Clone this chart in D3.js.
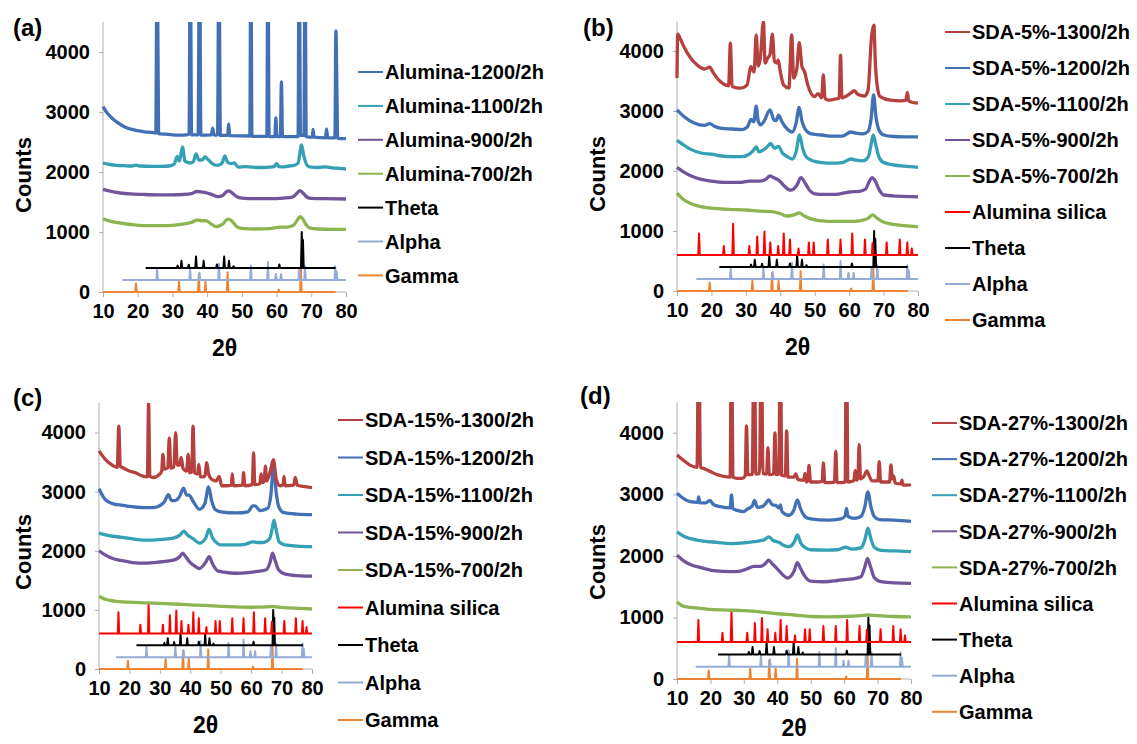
<!DOCTYPE html>
<html>
<head>
<meta charset="utf-8">
<title>XRD patterns</title>
<script src="https://d3js.org/d3.v7.min.js"></script>
<style>
  body { margin: 0; background: #fff; }
  text { font-family: "Liberation Sans", Arial, sans-serif; font-weight: bold; fill: #000; }
</style>
</head>
<body>
<div id="chart"></div>
<script type="text/javascript">

// ---- data: [2theta, counts] ----
let xTicks = [10, 20, 30, 40, 50, 60, 70, 80];
let yTicks = [0, 1000, 2000, 3000, 4000];

// panel (a)
let alumina1200 = [[10,3090],[11,3000],[12,2930],[14,2830],[16,2760],[18,2715],[20,2690],[22,2670],[24,2660],[25.2,2650],[25.6,6000],[26.0,2640],[28,2630],[30,2620],[32,2615],[34,2620],[34.8,2630],[35.15,6000],[35.5,2620],[37.4,2620],[37.8,6000],[38.2,2615],[41.2,2620],[41.6,2730],[42.0,2615],[43.0,2620],[43.4,6000],[43.8,2610],[45.9,2610],[46.2,2800],[46.5,2605],[52.3,2600],[52.6,6000],[52.9,2595],[57.2,2595],[57.5,6000],[57.85,2590],[59.5,2590],[59.8,2900],[60.1,2590],[61.1,2590],[61.4,3500],[61.7,2590],[66.2,2590],[66.5,6000],[66.9,2610],[67.9,2610],[68.2,6000],[68.5,2590],[70.3,2580],[70.5,2710],[70.8,2580],[74.1,2570],[74.4,2720],[74.7,2570],[76.8,2570],[77.1,4350],[77.35,3500],[77.6,2560],[80,2555]];
let alumina1100 = [[10,2150],[12,2125],[14,2110],[16,2105],[18,2100],[19.5,2115],[20.5,2100],[24,2095],[27,2095],[29,2100],[30.5,2130],[31.4,2260],[32.0,2180],[32.9,2420],[33.6,2180],[35,2150],[36.0,2170],[36.8,2300],[37.6,2200],[38.5,2200],[39.4,2250],[40.4,2200],[41.5,2140],[43,2110],[44.3,2150],[45.1,2270],[45.9,2160],[47.0,2140],[47.8,2150],[49,2080],[51,2090],[53,2080],[56,2075],[58,2080],[59.3,2090],[60.0,2140],[60.7,2090],[62,2085],[63.5,2100],[65,2110],[66.2,2150],[67.2,2450],[67.8,2280],[68.8,2110],[70,2080],[72,2075],[74,2085],[76,2070],[78,2060],[80,2050]];
let alumina900 = [[10,1710],[12,1680],[15,1650],[18,1635],[22,1625],[26,1620],[30,1620],[33,1625],[35.5,1640],[37,1675],[38.5,1665],[40,1650],[41.5,1620],[43,1590],[44.5,1610],[45.5,1670],[46.2,1685],[47,1660],[48.5,1590],[50,1565],[54,1555],[58,1555],[62,1565],[64.5,1580],[65.8,1640],[66.7,1690],[67.6,1650],[68.8,1580],[70,1560],[74,1555],[80,1550]];
let alumina700 = [[10,1220],[12,1180],[15,1150],[18,1125],[22,1105],[26,1105],[30,1110],[33,1130],[35.5,1160],[37.2,1200],[38.5,1185],[39.6,1190],[41,1140],[42.5,1090],[44.5,1130],[45.5,1200],[46.2,1215],[47,1190],[48.5,1090],[50,1060],[54,1050],[58,1055],[61,1080],[63,1080],[65,1120],[66.2,1220],[66.8,1255],[67.5,1220],[68.5,1120],[69.5,1070],[72,1050],[76,1045],[80,1045]];

// panel (b)
let sda5_1300 = [[10,3550],[10.2,4280],[11,4200],[12,4070],[14,3880],[16,3760],[18,3700],[19.5,3730],[20.5,3640],[22.6,3490],[25.0,3420],[25.5,4130],[26.0,3410],[28.4,3380],[30.3,3430],[31.5,3740],[32.4,3650],[33.0,4270],[33.6,3750],[34.2,3880],[35.1,4490],[35.6,3800],[36.3,3880],[37.0,3940],[37.7,4280],[38.3,3830],[39.0,3800],[39.4,3850],[40,3660],[41,3430],[42.5,3380],[43.3,4270],[43.9,3550],[44.8,3700],[45.5,4140],[46.3,3740],[47,3660],[48,3430],[50,3240],[51,3290],[52.0,3220],[52.5,3600],[53.0,3210],[54,3180],[56,3200],[57.1,3220],[57.5,3930],[57.9,3220],[59,3240],[60.5,3300],[61.5,3340],[62.5,3280],[64.5,3250],[65.5,3350],[66.5,4240],[67.2,4430],[67.6,3820],[68.2,3400],[69,3240],[72,3180],[75,3170],[76.5,3180],[76.9,3310],[77.3,3170],[78,3150],[80,3130]];
let sda5_1200 = [[10,3020],[12,2910],[15,2800],[18,2760],[19.5,2790],[21,2740],[23,2710],[26,2700],[29,2690],[30.5,2740],[31.5,2860],[32.3,2820],[33.0,3080],[33.6,2830],[34.3,2770],[35.3,2830],[37.0,3020],[38.2,2850],[38.8,2840],[39.5,2930],[40.5,2820],[42,2700],[43.5,2650],[44.6,2800],[45.5,3060],[46.3,2830],[47.2,2700],[48.5,2630],[50,2610],[52,2600],[55,2580],[58,2580],[60.5,2650],[62,2630],[64,2620],[65.5,2660],[66.4,2880],[67.1,3270],[67.8,2900],[68.7,2680],[70,2600],[73,2575],[76,2570],[80,2570]];
let sda5_1100 = [[10,2510],[12,2430],[14,2360],[17,2300],[20,2280],[23,2250],[26,2240],[29,2240],[31,2280],[32,2330],[33,2400],[33.8,2320],[35.3,2360],[36.3,2410],[37.2,2460],[38.3,2380],[39.5,2410],[40.6,2300],[42,2240],[43.5,2200],[44.6,2320],[45.6,2600],[46.5,2380],[47.5,2240],[49,2180],[52,2140],[55,2130],[58,2140],[60.5,2200],[62,2180],[64,2170],[65.6,2240],[66.3,2420],[67,2600],[67.8,2420],[68.6,2240],[70,2140],[73,2100],[76,2080],[80,2060]];
let sda5_900 = [[10,2060],[12,1980],[14,1920],[17,1860],[20,1830],[24,1810],[28,1810],[31,1830],[34,1830],[36,1870],[37,1920],[38,1890],[39.5,1850],[41,1760],[43,1680],[44.8,1760],[46,1890],[47.2,1800],[48.5,1680],[50,1620],[53,1610],[56,1610],[60,1650],[63,1660],[64.8,1700],[65.8,1820],[66.7,1890],[67.6,1830],[68.8,1680],[70,1600],[74,1580],[80,1570]];
let sda5_700 = [[10,1630],[11,1570],[12,1520],[14,1460],[16,1420],[20,1380],[25,1360],[30,1350],[34,1330],[38,1320],[40,1290],[42,1250],[44,1270],[45.5,1300],[47,1250],[48.5,1210],[52,1170],[56,1160],[60,1160],[63,1170],[65.5,1210],[66.8,1270],[68,1220],[69.5,1160],[72,1120],[76,1090],[80,1070]];

// panel (c)
let sda15_1300 = [[10,3690],[12,3550],[14,3460],[16.0,3410],[16.5,4110],[17.0,3430],[18,3400],[20,3350],[22,3320],[24,3270],[25.9,3250],[26.3,4500],[26.7,3260],[28,3240],[30,3300],[30.6,3350],[31.0,3630],[31.5,3380],[32.6,3400],[33.1,3910],[33.6,3400],[34.6,3420],[35.2,4000],[35.7,3450],[36.5,3450],[37.0,3580],[37.6,3400],[38.8,3350],[39.3,3630],[39.8,3320],[40.5,3330],[40.9,4110],[41.4,3320],[42.4,3300],[42.8,3460],[43.3,3250],[44.8,3260],[45.4,3490],[46,3300],[47,3210],[48.5,3180],[49.5,3260],[50.3,3100],[52,3100],[53.5,3110],[53.8,3300],[54.2,3100],[57.2,3110],[57.5,3320],[57.9,3100],[60.4,3120],[60.8,3660],[61.2,3120],[62.8,3130],[63.3,3300],[63.7,3150],[64.3,3180],[64.7,3430],[65.1,3180],[66.3,3350],[67.3,3540],[68.3,3200],[69.5,3100],[70.5,3120],[70.8,3260],[71.2,3100],[74.0,3110],[74.5,3240],[75.2,3110],[77,3090],[80,3070]];
let sda15_1200 = [[10,3050],[12,2870],[15,2790],[18,2770],[20,2750],[25,2730],[28,2730],[30.5,2780],[31.5,2830],[32.8,2950],[33.8,2850],[35,2850],[36.5,2920],[37.8,3060],[38.8,2940],[39.6,2940],[41,2830],[43,2700],[44.8,2800],[46,3080],[47,2850],[48.2,2700],[50,2660],[55,2640],[59,2660],[60.5,2760],[61.2,2760],[63,2680],[65.5,2720],[66.5,2950],[67.4,3460],[68.2,3000],[69,2760],[70.5,2650],[75,2620],[80,2610]];
let sda15_1100 = [[10,2300],[13,2260],[17,2230],[20,2210],[25,2180],[30,2190],[34,2210],[36.5,2260],[37.9,2330],[39,2270],[41,2200],[43,2130],[45,2210],[46.2,2360],[47.3,2220],[49,2120],[50,2100],[55,2100],[58,2110],[60.5,2150],[62,2140],[64,2140],[66,2200],[66.8,2340],[67.5,2520],[68.2,2360],[69.2,2150],[71,2100],[75,2080],[80,2070]];
let sda15_900 = [[10,2000],[12,1930],[15,1860],[18,1830],[21,1800],[25,1790],[30,1810],[33,1830],[35,1850],[36.5,1900],[37.5,1960],[38.5,1900],[40,1800],[41.5,1740],[43,1700],[45,1800],[46.2,1900],[47.3,1780],[49,1660],[51,1640],[55,1620],[59,1630],[62,1650],[65,1680],[66.2,1800],[67,1960],[67.8,1850],[69,1680],[71,1610],[75,1580],[80,1570]];
let sda15_700 = [[10,1230],[12,1180],[15,1150],[20,1130],[25,1120],[30,1110],[35,1100],[40,1085],[45,1075],[50,1060],[55,1050],[60,1045],[65,1050],[67.2,1060],[69,1045],[72,1035],[76,1025],[80,1015]];

// panel (d)
let sda27_1300 = [[10,3640],[12,3550],[14,3470],[16.0,3440],[16.5,6000],[17.0,3440],[18,3420],[20,3370],[22,3320],[24,3290],[25.9,3280],[26.3,6000],[26.7,3280],[28,3260],[29.5,3260],[30.4,3300],[30.8,4110],[31.2,3320],[32.5,3320],[33.1,6000],[33.6,3330],[34.7,3340],[35.2,6000],[35.7,3340],[36.8,3330],[37.2,3760],[37.6,3320],[38.9,3330],[39.3,4000],[39.7,3320],[40.5,3330],[40.9,6000],[41.3,3310],[42.4,3300],[42.8,4030],[43.2,3280],[45,3280],[45.5,3330],[46.2,3240],[47.9,3230],[48.3,3340],[48.7,3200],[49.1,3220],[49.5,3470],[49.9,3200],[52,3200],[53.4,3210],[53.8,3510],[54.2,3190],[57.1,3200],[57.5,3700],[57.9,3190],[60.3,3200],[60.7,6000],[61.1,3200],[62.9,3220],[63.3,3390],[63.7,3230],[64.1,3250],[64.5,3810],[64.9,3250],[66.0,3300],[66.8,3380],[67.5,3300],[68.3,3220],[70.1,3220],[70.5,3530],[70.9,3200],[73.6,3200],[74.0,3480],[74.4,3250],[74.8,3300],[75.3,3180],[77.0,3170],[77.3,3230],[77.6,3150],[79,3150],[80,3160]];
let sda27_1200 = [[10,3020],[12,2930],[14,2880],[16.2,2870],[16.5,2960],[16.8,2860],[18.5,2860],[19.8,2900],[21,2830],[23,2800],[25.9,2780],[26.3,2990],[26.7,2770],[28,2740],[30,2720],[31,2760],[32.5,2810],[33.2,2900],[34,2790],[35.5,2800],[36.5,2850],[37.4,2910],[38.5,2830],[39.5,2820],[40.5,2780],[40.9,2830],[41.4,2720],[43.5,2660],[45,2750],[46,2910],[47,2760],[48.5,2630],[50,2600],[55,2580],[59,2600],[60.3,2650],[60.7,2770],[61.2,2640],[63,2610],[65,2640],[66.2,2800],[67.1,3040],[68,2800],[69,2640],[70.5,2590],[75,2580],[80,2560]];
let sda27_1100 = [[10,2390],[12,2320],[14,2280],[18,2240],[22,2220],[26,2200],[30,2210],[33,2230],[36,2260],[37.5,2310],[38.8,2250],[40.5,2220],[42,2170],[43.5,2150],[45.2,2240],[46,2340],[47,2210],[48.5,2130],[50,2100],[55,2095],[58,2100],[60.5,2140],[62.5,2110],[65,2130],[66.2,2260],[67.1,2450],[68,2280],[69,2140],[71,2090],[75,2080],[80,2070]];
let sda27_900 = [[10,2010],[12,1920],[14,1860],[17,1810],[20,1770],[24,1750],[28,1745],[31,1790],[33,1830],[35,1830],[36.5,1880],[37.4,1930],[38.5,1870],[40,1790],[41.5,1700],[43,1640],[45,1750],[46,1890],[47,1790],[48.5,1650],[50,1590],[54,1580],[58,1600],[61,1620],[63,1630],[65,1660],[66.2,1820],[67,1960],[67.8,1840],[69,1650],[71,1580],[75,1560],[80,1555]];
let sda27_700 = [[10,1250],[12,1180],[15,1160],[20,1130],[25,1120],[30,1110],[35,1090],[40,1060],[45,1040],[50,1015],[55,1010],[60,1015],[65,1030],[67,1040],[70,1030],[75,1015],[80,1010]];

// reference stick patterns: [position, height above own baseline]
let gammaPeaks = [[19.5,140],[31.9,170],[37.6,300],[39.5,170],[45.9,330],[60.6,40],[67.0,400]];
let gammaRange = [10, 77, 0];      // start, end, baseline
let alphaPeaks = [[25.6,180],[35.1,180],[37.8,120],[43.4,270],[52.6,240],[57.5,300],[59.8,100],[61.3,100],[66.5,200],[68.2,230],[76.9,230],[77.3,140]];
let alphaRange = [15.6, 80, 200];
let thetaPeaks = [[31.5,40],[32.6,120],[34.7,55],[36.8,190],[39.0,120],[42.8,60],[44.9,190],[46.3,120],[47.6,30],[60.8,60],[67.25,600],[67.6,470]];
let thetaRange = [22.3, 77, 400];
let silicaPeaks = [[16.4,360],[23.6,150],[26.3,520],[31.0,150],[33.3,310],[35.4,390],[37.1,210],[39.4,150],[41.0,360],[42.8,260],[45.3,110],[48.3,210],[49.7,210],[53.8,260],[57.5,260],[60.9,360],[64.6,260],[66.8,200],[70.9,210],[74.7,260],[76.9,210],[78.2,110]];
let silicaRange = [10, 80, 600];

// ---- colours ----
let col = {
    c1300: "#b5403d", c1200: "#4170b5", c1100: "#34a0b3", c900: "#71559b", c700: "#8db450",
    silica: "#ff0000", theta: "#000000", alpha: "#95acd6", gamma: "#ee8432"
};

// ---- panels ----
let panels = [
    {label: "(a)", x0: 103, x1: 346, y0: 292, yTop: 22, labX: 13, labY: 36, countsX: 23, titleDy: 64,
     legX: 358, legY: 72, legDy: 33.9,
     measured: [["Alumina-1200/2h", col.c1200, alumina1200], ["Alumina-1100/2h", col.c1100, alumina1100],
                ["Alumina-900/2h", col.c900, alumina900], ["Alumina-700/2h", col.c700, alumina700]],
     refs: ["theta", "alpha", "gamma"]},
    {label: "(b)", x0: 677, x1: 918, y0: 291, yTop: 21, labX: 583, labY: 36, countsX: 597, titleDy: 64,
     legX: 945, legY: 32, legDy: 36,
     measured: [["SDA-5%-1300/2h", col.c1300, sda5_1300], ["SDA-5%-1200/2h", col.c1200, sda5_1200],
                ["SDA-5%-1100/2h", col.c1100, sda5_1100], ["SDA-5%-900/2h", col.c900, sda5_900],
                ["SDA-5%-700/2h", col.c700, sda5_700]],
     refs: ["silica", "theta", "alpha", "gamma"]},
    {label: "(c)", x0: 99, x1: 312, y0: 669, yTop: 403, labX: 13, labY: 406, countsX: 23, titleDy: 64,
     legX: 338, legY: 420, legDy: 37.5,
     measured: [["SDA-15%-1300/2h", col.c1300, sda15_1300], ["SDA-15%-1200/2h", col.c1200, sda15_1200],
                ["SDA-15%-1100/2h", col.c1100, sda15_1100], ["SDA-15%-900/2h", col.c900, sda15_900],
                ["SDA-15%-700/2h", col.c700, sda15_700]],
     refs: ["silica", "theta", "alpha", "gamma"]},
    {label: "(d)", x0: 677, x1: 911, y0: 679, yTop: 402, labX: 580, labY: 404, countsX: 597, titleDy: 57,
     legX: 932, legY: 423, legDy: 36.1,
     measured: [["SDA-27%-1300/2h", col.c1300, sda27_1300], ["SDA-27%-1200/2h", col.c1200, sda27_1200],
                ["SDA-27%-1100/2h", col.c1100, sda27_1100], ["SDA-27%-900/2h", col.c900, sda27_900],
                ["SDA-27%-700/2h", col.c700, sda27_700]],
     refs: ["silica", "theta", "alpha", "gamma"]}
];

let refDefs = {
    silica: {name: "Alumina silica", color: col.silica, peaks: silicaPeaks, range: silicaRange},
    theta:  {name: "Theta", color: col.theta, peaks: thetaPeaks, range: thetaRange},
    alpha:  {name: "Alpha", color: col.alpha, peaks: alphaPeaks, range: alphaRange},
    gamma:  {name: "Gamma", color: col.gamma, peaks: gammaPeaks, range: gammaRange}
};

// turn a stick list into a polyline on its baseline
function stickPoints(peaks, range) {
    let base = range[2];
    let pts = [[range[0], base]];
    peaks.forEach(function(p) {
        pts.push([p[0] - 0.22, base], [p[0], base + p[1]], [p[0] + 0.22, base]);
    });
    pts.push([range[1], base]);
    return pts;
}

let svg = d3.select("#chart").append("svg")
    .attr("width", 1137).attr("height", 744)
    .style("display", "block");

svg.append("rect").attr("width", 1137).attr("height", 744).attr("fill", "#fff");

let axisColor = "#b0b0b0";

panels.forEach(function(p, i) {
    let xScale = d3.scaleLinear().domain([10, 80]).range([p.x0, p.x1]);
    let yScale = d3.scaleLinear().domain([0, 4500]).range([p.y0, p.yTop]);

    let g = svg.append("g");

    // clip everything above 4500
    let clipId = "clip" + i;
    svg.append("clipPath").attr("id", clipId)
        .append("rect")
        .attr("x", p.x0 - 2).attr("y", p.yTop)
        .attr("width", p.x1 - p.x0 + 6).attr("height", p.y0 - p.yTop + 10);

    // y axis
    let yAxis = d3.axisLeft(yScale).tickValues(yTicks).tickSize(4).tickPadding(9)
        .tickFormat(d3.format("d"));
    let ya = g.append("g").attr("transform", "translate(" + p.x0 + ",0)").call(yAxis);
    ya.select(".domain").attr("stroke", axisColor).attr("d", "M0," + p.y0 + "V" + p.yTop);
    ya.selectAll(".tick line").attr("stroke", axisColor);
    ya.selectAll(".tick text").attr("font-size", "20px").attr("fill", "#000")
        .style("font-family", "'Liberation Sans', Arial, sans-serif").style("font-weight", "bold");

    // x axis
    let xAxis = d3.axisBottom(xScale).tickValues(xTicks).tickSize(5).tickPadding(7)
        .tickFormat(d3.format("d"));
    let xa = g.append("g").attr("transform", "translate(0," + p.y0 + ")").call(xAxis);
    xa.select(".domain").attr("stroke", axisColor).attr("d", "M" + p.x0 + ",0H" + p.x1);
    xa.selectAll(".tick line").attr("stroke", axisColor);
    xa.selectAll(".tick text").attr("font-size", "20px").attr("fill", "#000")
        .style("font-family", "'Liberation Sans', Arial, sans-serif").style("font-weight", "bold");

    let plot = g.append("g").attr("clip-path", "url(#" + clipId + ")");

    let smooth = d3.line()
        .x(function(d) { return xScale(d[0]); })
        .y(function(d) { return yScale(d[1]); })
        .curve(d3.curveMonotoneX);
    let straight = d3.line()
        .x(function(d) { return xScale(d[0]); })
        .y(function(d) { return yScale(d[1]); });

    // reference patterns (bottom first)
    p.refs.slice().reverse().forEach(function(key) {
        let r = refDefs[key];
        plot.append("path")
            .attr("d", straight(stickPoints(r.peaks, r.range)))
            .attr("fill", "none")
            .attr("stroke", r.color)
            .attr("stroke-width", 2)
            .attr("stroke-linejoin", "round");
    });

    // measured patterns (lowest first); thick stroke stands in for the noise band
    p.measured.slice().reverse().forEach(function(s) {
        plot.append("path")
            .attr("d", smooth(s[2]))
            .attr("fill", "none")
            .attr("stroke", s[1])
            .attr("stroke-width", 3.3)
            .attr("stroke-linejoin", "round");
    });

    // panel label
    g.append("text").attr("x", p.labX).attr("y", p.labY)
        .attr("font-size", "24px").text(p.label);

    // axis titles
    g.append("text")
        .attr("transform", "translate(" + p.countsX + "," + (p.y0 - 117) + ") rotate(-90)")
        .attr("text-anchor", "middle").attr("dy", "0.35em")
        .attr("font-size", "22px").text("Counts");
    g.append("text")
        .attr("x", (p.x0 + p.x1) / 2).attr("y", p.y0 + p.titleDy)
        .attr("text-anchor", "middle")
        .attr("font-size", "23px").text("2\u03b8");

    // legend
    let items = p.measured.map(function(s) { return {name: s[0], color: s[1]}; })
        .concat(p.refs.map(function(k) { return refDefs[k]; }));
    let leg = g.append("g");
    items.forEach(function(it, j) {
        let y = p.legY + j * p.legDy;
        leg.append("line")
            .attr("x1", p.legX).attr("x2", p.legX + 25)
            .attr("y1", y).attr("y2", y)
            .attr("stroke", it.color).attr("stroke-width", 2);
        leg.append("text")
            .attr("x", p.legX + 27).attr("y", y).attr("dy", "0.36em")
            .attr("font-size", "20px").text(it.name);
    });
});

</script>
</body>
</html>
